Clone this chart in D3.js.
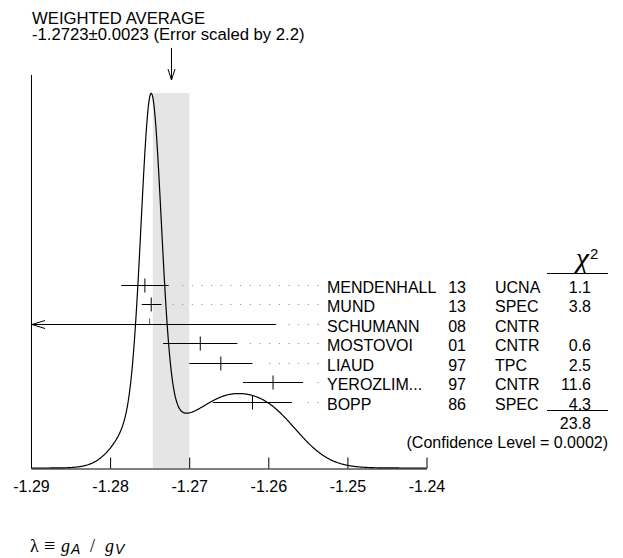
<!DOCTYPE html>
<html>
<head>
<meta charset="utf-8">
<script src="https://cdn.jsdelivr.net/npm/d3@7"></script>
<style>
  body { margin: 0; background: #fff; }
  text { font-family: "Liberation Sans", Arial, sans-serif; font-size: 16px; fill: #000; }
</style>
</head>
<body>
<div id="chart"></div>
<script>
(function () {

  // measurements (lambda = gA/gV)
  const names = ["MENDENHALL", "MUND", "SCHUMANN", "MOSTOVOI", "LIAUD", "YEROZLIM...", "BOPP"];
  const years = ["13", "13", "08", "01", "97", "97", "86"];
  const techs = ["UCNA", "SPEC", "CNTR", "CNTR", "TPC", "CNTR", "SPEC"];
  const values = [-1.2756, -1.2748, -1.275, -1.2686, -1.266, -1.2594, -1.262];
  const errHi = [0.0030, 0.0013, 0.016, 0.0047, 0.004, 0.0038, 0.005];
  const errLo = [0.0030, 0.0012, 0.016, 0.0047, 0.004, 0.0038, 0.005];
  const chi2 = ["1.1", "3.8", "", "0.6", "2.5", "11.6", "4.3"];
  const usedInFit = [true, true, false, true, true, true, true];

  const avgValue = -1.2723;
  const avgError = 0.0023;
  const chi2Total = "23.8";
  const confLevel = "(Confidence Level = 0.0002)";
  const xTicks = [-1.29, -1.28, -1.27, -1.26, -1.25, -1.24];

  // chart settings
  const svg_width = 623, svg_height = 558;
  const x0 = 31, x1 = 426.5, yBase = 468, yTop = 93;

  const svg = d3.select("#chart").append("svg")
    .attr("width", svg_width)
    .attr("height", svg_height);

  const x = d3.scaleLinear().domain([-1.29, -1.24]).range([x0, x1]);
  const row = d3.scaleLinear().domain([0, names.length - 1]).range([285, 401.5]);

  // ideogram: sum of gaussians, area proportional to 1/sigma
  const samples = d3.range(0, 501).map(i => -1.29 + i * 0.05 / 500);
  const curve = samples.map(v => {
    let s = 0;
    values.forEach((m, i) => {
      if (!usedInFit[i]) return;
      const sig = (errHi[i] + errLo[i]) / 2;
      s += Math.exp(-0.5 * Math.pow((v - m) / sig, 2)) / (sig * sig);
    });
    return { v: v, s: s };
  });
  const y = d3.scaleLinear()
    .domain([0, d3.max(curve, d => d.s)])
    .range([yBase, yTop]);

  // error band of the weighted average
  svg.append("rect")
    .attr("x", x(avgValue - avgError))
    .attr("y", yTop)
    .attr("width", x(avgValue + avgError) - x(avgValue - avgError))
    .attr("height", yBase - yTop)
    .attr("fill", "#e5e5e5");

  // title
  svg.append("text").attr("x", 32).attr("y", 23.5).style("font-size", "16.7px").text("WEIGHTED AVERAGE");
  svg.append("text").attr("x", 32).attr("y", 40).style("font-size", "16.7px")
    .text("-1.2723\u00b10.0023 (Error scaled by 2.2)");

  // arrow to average
  const ax = Math.round(x(avgValue)) + 0.5;
  svg.append("path")
    .attr("d", `M${ax},48V80M${ax - 3.5},69L${ax},80L${ax + 3.5},69`)
    .attr("fill", "none").attr("stroke", "#000");

  // left axis line
  svg.append("line")
    .attr("x1", x0 + 0.5).attr("x2", x0 + 0.5)
    .attr("y1", 75).attr("y2", yBase)
    .attr("stroke", "#000");

  // ideogram curve
  svg.append("path")
    .datum(curve)
    .attr("d", d3.line().x(d => x(d.v)).y(d => y(d.s)).curve(d3.curveBasis))
    .attr("fill", "none")
    .attr("stroke", "#000")
    .attr("stroke-width", 1.2);

  // x axis
  const xAxis = svg.append("g")
    .attr("transform", "translate(0," + (yBase + 0.5) + ")")
    .call(d3.axisBottom(x)
      .tickValues(xTicks)
      .tickFormat(d => d.toFixed(2))
      .tickSizeInner(-11)
      .tickSizeOuter(0)
      .tickPadding(12));
  xAxis.select(".domain").attr("stroke", "#000");
  xAxis.selectAll("text")
    .style("font-family", "Liberation Sans, Arial, sans-serif")
    .style("font-size", "16px")
    .attr("fill", "#000");

  // measurements
  names.forEach((n, i) => {
    const ry = Math.round(row(i)) + 0.5;
    const left = Math.max(x(values[i] - errLo[i]), x0);
    const right = x(values[i] + errHi[i]);
    const cx = x(values[i]);

    svg.append("line")
      .attr("x1", left).attr("x2", right)
      .attr("y1", ry).attr("y2", ry)
      .attr("stroke", "#000");

    if (x(values[i] - errLo[i]) < x0) {
      // off-scale: open arrow at axis
      svg.append("path")
        .attr("d", `M${x0 + 14},${ry - 4}L${x0 + 1},${ry}L${x0 + 14},${ry + 4}`)
        .attr("fill", "none").attr("stroke", "#000");
      svg.append("line")
        .attr("x1", cx).attr("x2", cx)
        .attr("y1", ry - 6).attr("y2", ry)
        .attr("stroke", "#555");
    } else {
      svg.append("line")
        .attr("x1", cx).attr("x2", cx)
        .attr("y1", ry - 7).attr("y2", ry + 7)
        .attr("stroke", "#000");
    }

    // dotted leader
    const dots = [];
    for (let dx = 317.5; dx > right + 10; dx -= 9.67) dots.push(dx);
    svg.selectAll(null).data(dots).enter().append("rect")
      .attr("x", d => d).attr("y", ry - 0.5)
      .attr("width", 1).attr("height", 1)
      .attr("fill", "#888");

    const ty = ry + 7;
    svg.append("text").attr("x", 327).attr("y", ty).text(n);
    svg.append("text").attr("x", 466).attr("y", ty).attr("text-anchor", "end").text(years[i]);
    svg.append("text").attr("x", 495).attr("y", ty).text(techs[i]);
    svg.append("text").attr("x", 591).attr("y", ty).attr("text-anchor", "end").text(chi2[i]);
  });

  // chi2 header and totals
  svg.append("text").attr("x", 589).attr("y", 268).attr("text-anchor", "end")
    .style("font-family", "Liberation Serif, serif").style("font-style", "italic")
    .style("font-size", "30px").text("\u03c7");
  svg.append("text").attr("x", 590).attr("y", 259).style("font-size", "15px").text("2");
  svg.append("line").attr("x1", 547).attr("x2", 608).attr("y1", 273.5).attr("y2", 273.5).attr("stroke", "#000");
  svg.append("line").attr("x1", 547).attr("x2", 608).attr("y1", 410.5).attr("y2", 410.5).attr("stroke", "#000");
  svg.append("text").attr("x", 591).attr("y", 429).attr("text-anchor", "end").text(chi2Total);
  svg.append("text").attr("x", 608).attr("y", 447.5).attr("text-anchor", "end").text(confLevel);

  // quantity
  const qy = 552;
  const serif = "Liberation Serif, serif";
  const sans = "Liberation Sans, sans-serif";
  const part = (px, txt, fam, size, style, dy) => svg.append("text")
    .attr("x", px).attr("y", qy + (dy || 0))
    .style("font-family", fam).style("font-size", size + "px")
    .style("font-style", style || "normal").text(txt);
  part(30, "\u03bb", serif, 18);
  part(44, "\u2261", serif, 20);
  part(61, "g", serif, 18, "italic");
  part(71, "A", sans, 14, "italic", 2);
  part(90, "/", serif, 18);
  part(105, "g", serif, 18, "italic");
  part(115, "V", sans, 14, "italic", 2);

})();
</script>
</body>
</html>
